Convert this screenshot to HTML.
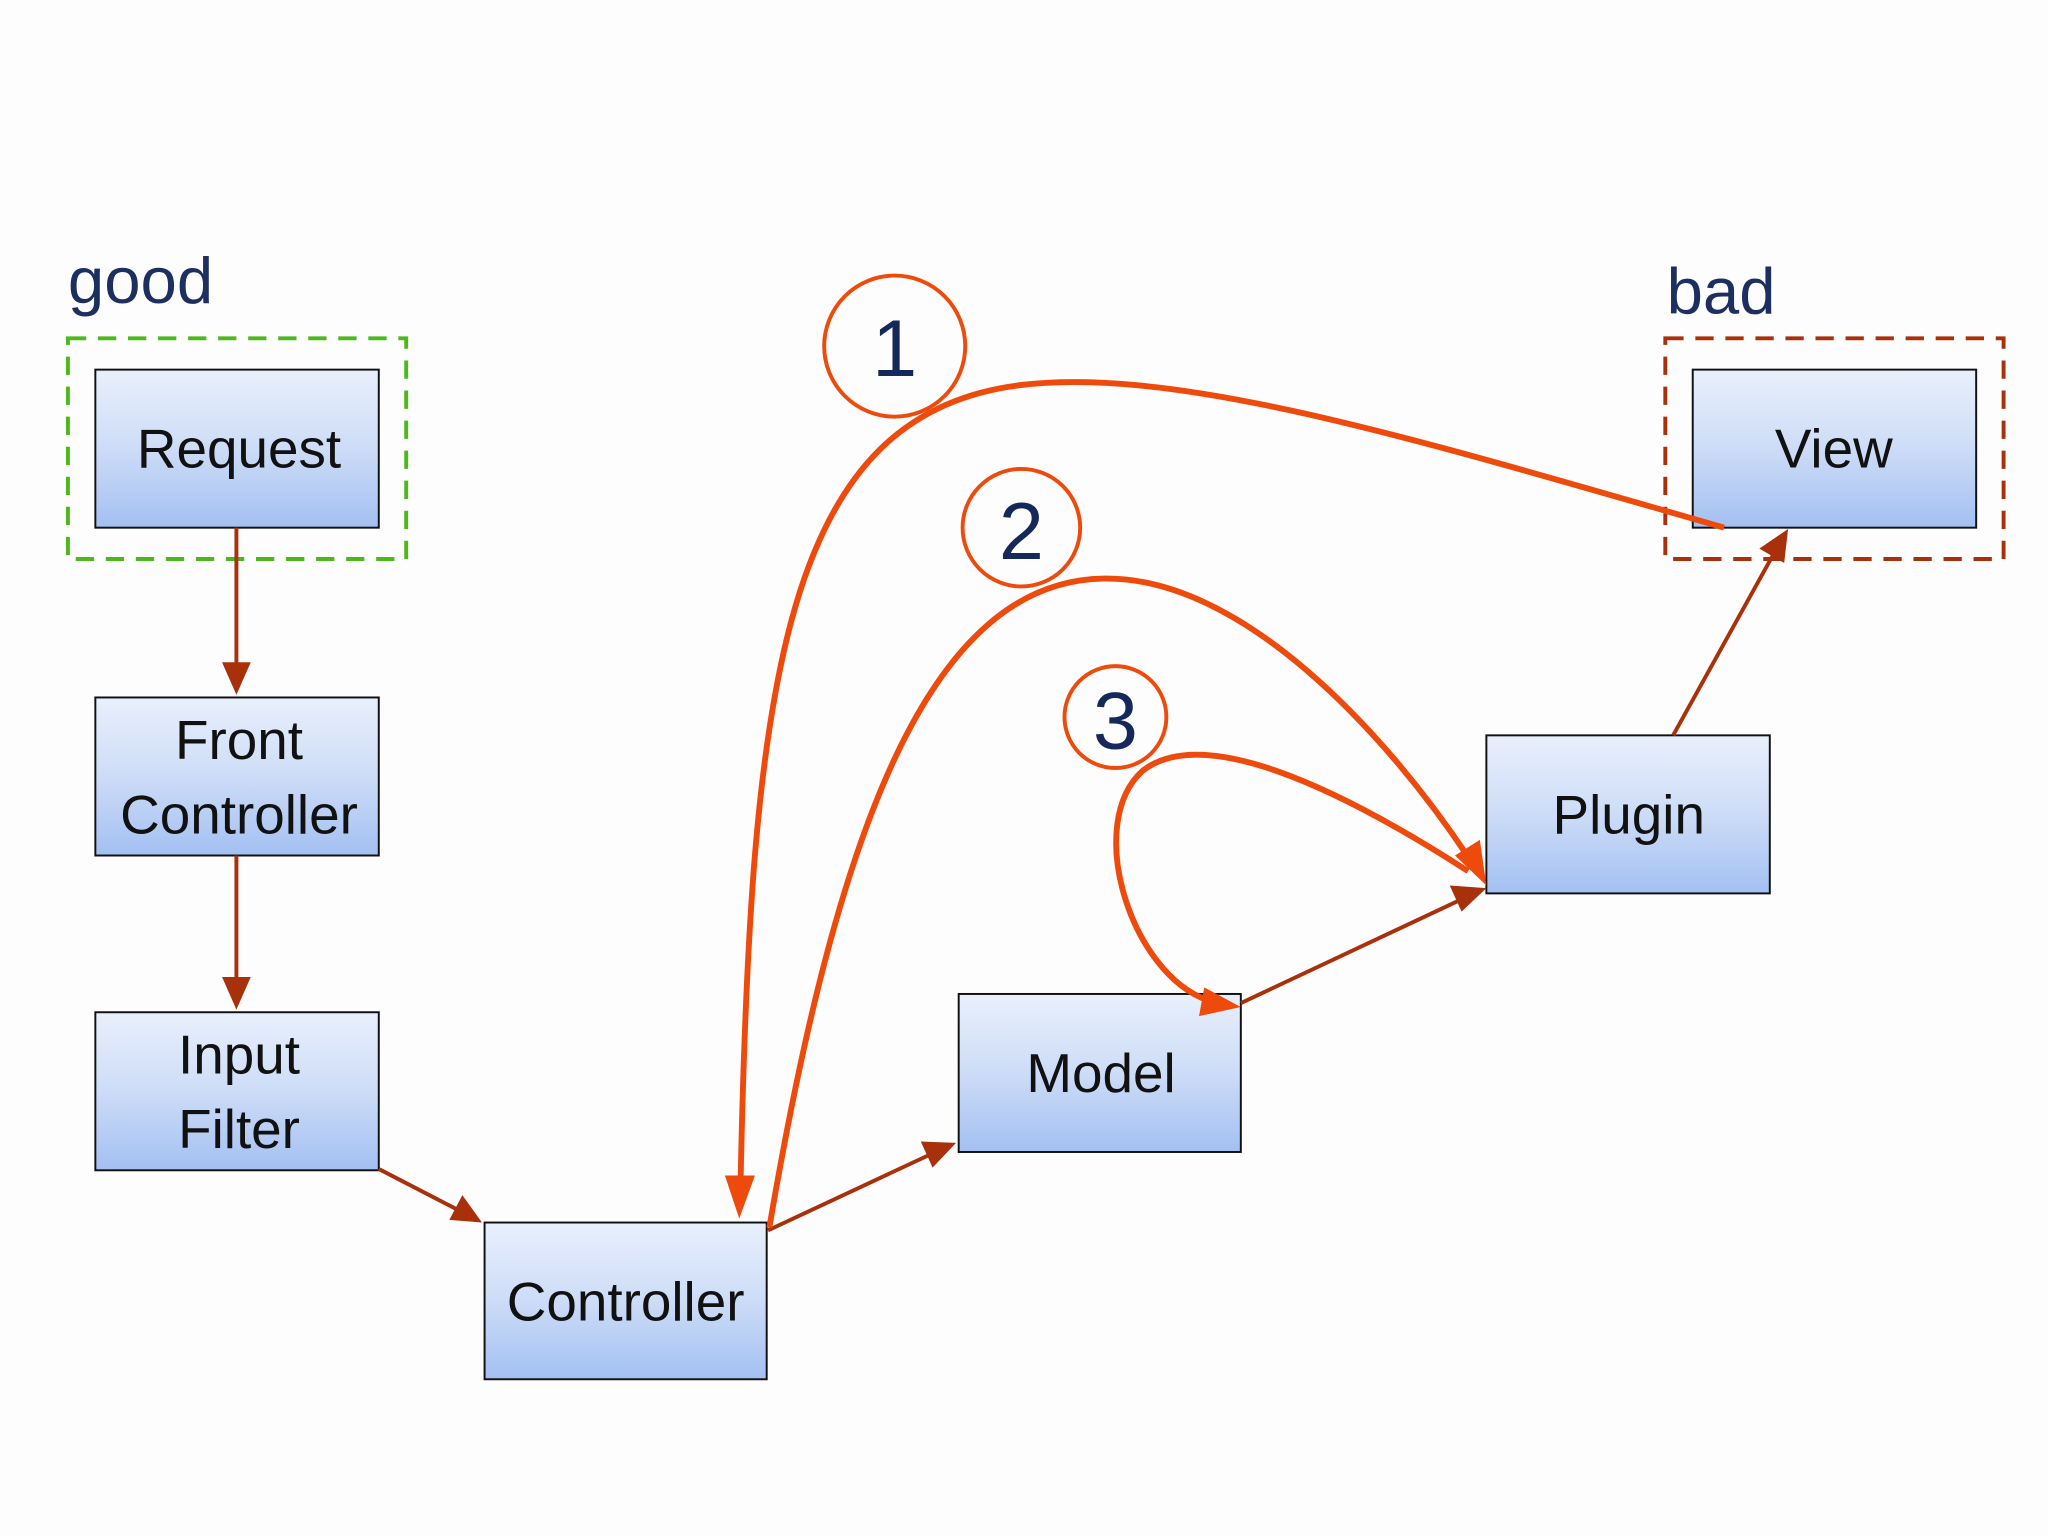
<!DOCTYPE html>
<html><head><meta charset="utf-8"><style>
html,body{margin:0;padding:0;background:#fdfdfd;}
svg{display:block;}
text{font-family:"Liberation Sans",sans-serif;}
</style></head><body>
<svg width="2048" height="1536" viewBox="0 0 1568 1176" xmlns="http://www.w3.org/2000/svg">
<defs>
<linearGradient id="g" x1="0" y1="0" x2="0" y2="1">
<stop offset="0" stop-color="#e9f0fc"/><stop offset="0.5" stop-color="#cddcf7"/><stop offset="1" stop-color="#a3c0f2"/>
</linearGradient>
</defs>
<rect width="1568" height="1176" fill="#fdfdfd"/>
<text x="52" y="232" font-size="50" fill="#1c2f5e">good</text>
<text x="1276" y="240" font-size="50" fill="#1c2f5e">bad</text>
<rect x="52" y="259" width="259" height="169" fill="none" stroke="#4cb81c" stroke-width="3" stroke-dasharray="14,9"/>
<rect x="1275" y="259" width="259" height="169" fill="none" stroke="#a8300a" stroke-width="3" stroke-dasharray="14,9"/>
<g stroke="#111" stroke-width="1.5" fill="url(#g)">
<rect x="73" y="283" width="217" height="121"/>
<rect x="73" y="534" width="217" height="121"/>
<rect x="73" y="775" width="217" height="121"/>
<rect x="371" y="936" width="216" height="120"/>
<rect x="734" y="761" width="216" height="121"/>
<rect x="1138" y="563" width="217" height="121"/>
<rect x="1296" y="283" width="217" height="121"/>
</g>
<g font-size="42" fill="#111" text-anchor="middle">
<text x="183" y="358">Request</text>
<text x="183" y="581">Front</text>
<text x="183" y="638">Controller</text>
<text x="183" y="822">Input</text>
<text x="183" y="879">Filter</text>
<text x="479" y="1011">Controller</text>
<text x="843" y="836">Model</text>
<text x="1247" y="638">Plugin</text>
<text x="1404" y="358">View</text>
</g>
<g stroke="#a8300a" stroke-width="3" fill="none">
<line x1="181" y1="404" x2="181" y2="512"/>
<line x1="181" y1="655" x2="181" y2="753"/>
<line x1="290" y1="895" x2="350" y2="926"/>
<line x1="588" y1="942" x2="712" y2="884"/>
<line x1="950" y1="768" x2="1118" y2="689"/>
<line x1="1281" y1="563" x2="1358" y2="424"/>
</g>
<g fill="#a8300a">
<polygon points="181,532 170,507 192,507"/>
<polygon points="181,773 170,748 192,748"/>
<polygon points="369,936 344,934 354,915"/>
<polygon points="732,875 714,894 705,874"/>
<polygon points="1138,680 1119,698 1110,678"/>
<polygon points="1369,405 1366,431 1347,420"/>
</g>
<g stroke="#ee4a0c" stroke-width="4.5" fill="none">
<path d="M1320,404 C1080,335 900,280 780,295 C600,318 575,520 567,905"/>
<path d="M589,940 C640,640 710,445 845,443 C950,441 1060,560 1124,656"/>
<path d="M1124,667 C1020,600 920,555 875,590 C830,630 865,745 925,766"/>
</g>
<g fill="#ee4a0c">
<polygon points="566,933 555,900 578,900"/>
<polygon points="1138,678 1114,655 1133,643"/>
<polygon points="950,771 918,778 922,756"/>
</g>
<g stroke="#ee4a0c" stroke-width="3" fill="#fdfdfd">
<circle cx="685" cy="265" r="54"/>
<circle cx="782" cy="404" r="45"/>
<circle cx="854" cy="549" r="39"/>
</g>
<g font-size="62" fill="#14285a" text-anchor="middle">
<text x="685" y="288">1</text>
<text x="782" y="428">2</text>
<text x="854" y="573">3</text>
</g>
</svg>
</body></html>
